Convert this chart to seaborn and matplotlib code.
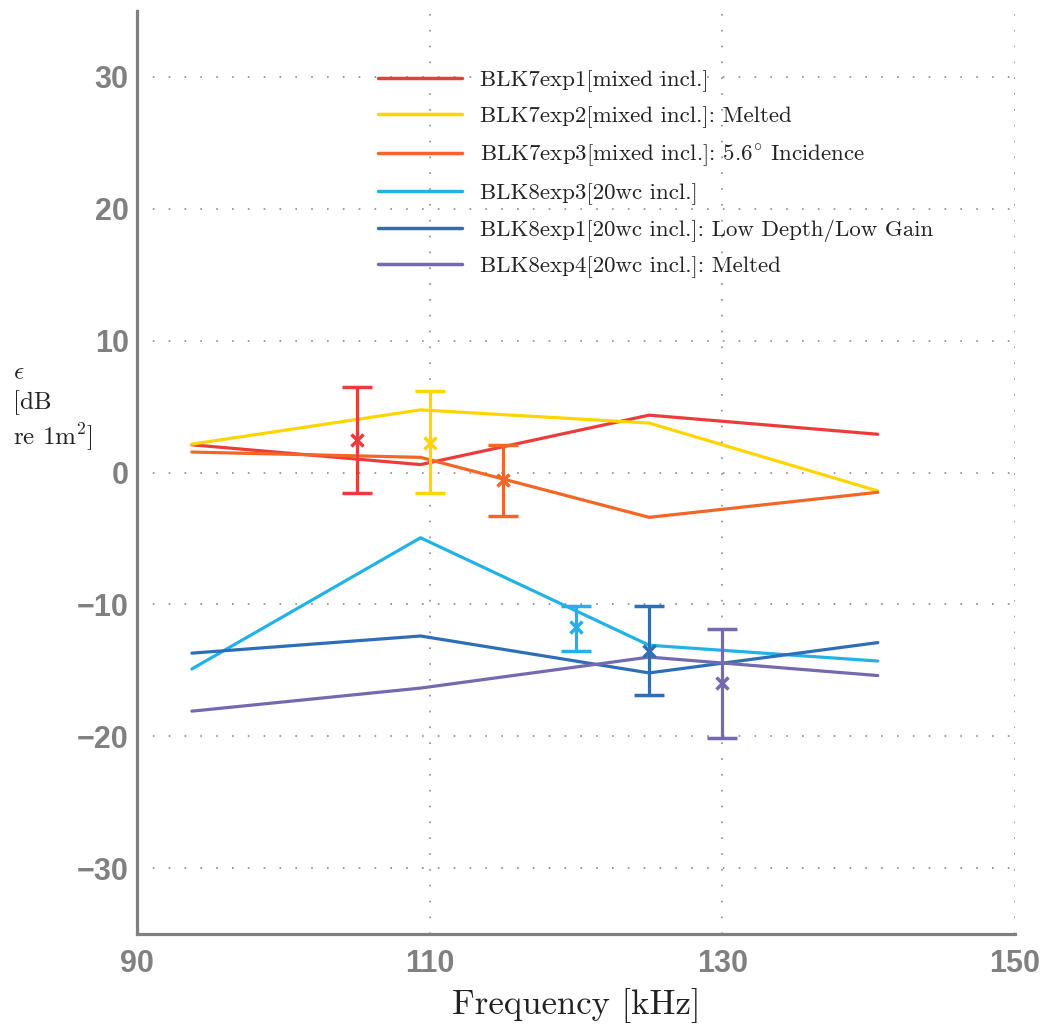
import numpy as np
import pandas as pd
import matplotlib
matplotlib.use("Agg")
import matplotlib.pyplot as plt
import seaborn as sns

# Frequencies of the measured bands [kHz]
freqs = [93.75, 109.375, 125.0, 140.625]

# Series names and colours
names = [
    "BLK7exp1[mixed incl.]",
    "BLK7exp2[mixed incl.]: Melted",
    "BLK7exp3[mixed incl.]: 5.6$^{\\circ}$ Incidence",
    "BLK8exp3[20wc incl.]",
    "BLK8exp1[20wc incl.]: Low Depth/Low Gain",
    "BLK8exp4[20wc incl.]: Melted",
]
colors = ["#EC3B3B", "#FFD500", "#F26626", "#22B2E6", "#2E6EB6", "#736AAF"]

# Target strength residual per band [dB re 1 m^2]
blk7exp1 = [2.1, 0.6, 4.35, 2.9]
blk7exp2 = [2.15, 4.75, 3.75, -1.4]
blk7exp3 = [1.55, 1.15, -3.4, -1.5]
blk8exp3 = [-14.9, -4.95, -13.1, -14.3]
blk8exp1 = [-13.7, -12.4, -15.2, -12.9]
blk8exp4 = [-18.1, -16.35, -14.0, -15.4]
series = [blk7exp1, blk7exp2, blk7exp3, blk8exp3, blk8exp1, blk8exp4]

# Mean and spread per experiment
err_x = [105, 110, 115, 120, 125, 130]
err_mean = [2.45, 2.25, -0.55, -11.75, -13.5, -16.0]
err_top = [6.5, 6.2, 2.1, -10.1, -10.1, -11.9]
err_bottom = [-1.55, -1.55, -3.3, -13.5, -16.9, -20.1]

sns.set_style("white")
plt.rcParams["mathtext.fontset"] = "cm"
plt.rcParams["axes.unicode_minus"] = True

gray = "#808080"
serif = ["cmr10", "DejaVu Serif"]

fig = plt.figure(figsize=(10.45, 10.24), dpi=100)
ax = fig.add_axes([137 / 1045, 1 - 934 / 1024, 878 / 1045, 923 / 1024])

df = pd.DataFrame({
    "freq": np.tile(freqs, len(names)),
    "value": np.concatenate(series),
    "name": np.repeat(names, len(freqs)),
})

for name, color in zip(names, colors):
    sub = df[df["name"] == name]
    sns.lineplot(data=sub, x="freq", y="value", color=color, lw=2.3,
                 label=name, ax=ax, zorder=3)

for x, m, t, b, c in zip(err_x, err_mean, err_top, err_bottom, colors):
    ax.errorbar([x], [m], yerr=[[m - b], [t - m]], color=c, lw=2.3,
                capsize=11, capthick=2.3, marker="x", ms=9, mew=2.5,
                zorder=4)

ax.set_xlim(90, 150)
ax.set_ylim(-35, 35)
ax.set_xticks([90, 110, 130, 150])
ax.set_yticks([-30, -20, -10, 0, 10, 20, 30])

# Dotted grid
for gx in [110, 130, 150]:
    ax.axvline(gx, color="#8a8a8a", lw=1.2, ls=(0, (1, 8.5)), zorder=1)
for gy in [-30, -20, -10, 0, 10, 20, 30]:
    ax.axhline(gy, color="#8a8a8a", lw=1.2, ls=(0, (1, 8.5)), zorder=1)

for s in ["top", "right"]:
    ax.spines[s].set_visible(False)
for s in ["left", "bottom"]:
    ax.spines[s].set_color(gray)
    ax.spines[s].set_linewidth(2.3)

ax.tick_params(axis="both", direction="in", length=6, width=2.2, color=gray,
               labelcolor=gray, labelsize=22)
ax.tick_params(axis="x", pad=11)
ax.tick_params(axis="y", pad=6)
for lab in ax.get_xticklabels() + ax.get_yticklabels():
    lab.set_fontfamily("Liberation Sans")
    lab.set_fontweight("bold")

ax.set_xlabel("Frequency [kHz]", fontsize=25, family=serif, color="#222222",
              labelpad=6)
ax.set_ylabel("$\\epsilon$\n[dB\nre 1m$^2$]", fontsize=18, family=serif,
              color="#222222", rotation=0, ha="left", va="center",
              multialignment="left", linespacing=1.3)
ax.yaxis.set_label_coords(-0.141, 0.57)

handles, labels = ax.get_legend_handles_labels()
leg = ax.legend(handles, labels, loc="upper left",
                bbox_to_anchor=(0.2745, 0.936), frameon=False,
                prop={"family": serif, "size": 16.5}, handlelength=3.67,
                handletextpad=0.78, labelspacing=0.62, borderpad=0,
                borderaxespad=0)
for line in leg.get_lines():
    line.set_linewidth(2.5)
for t in leg.get_texts():
    t.set_color("#222222")

fig.savefig("out.png", dpi=100)
